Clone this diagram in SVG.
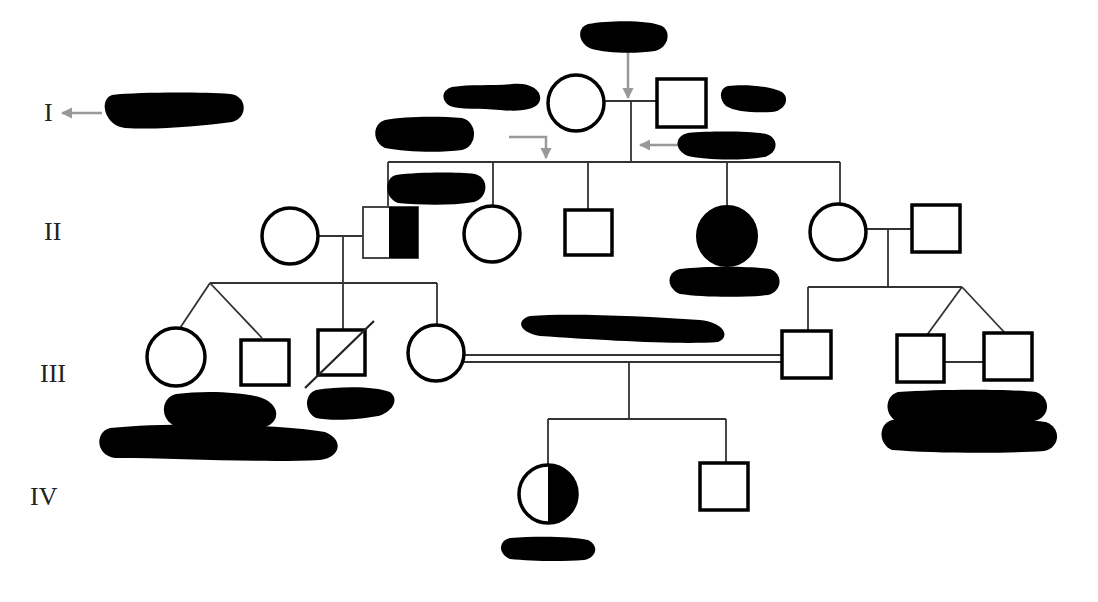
<svg xmlns="http://www.w3.org/2000/svg" width="1098" height="602" viewBox="0 0 1098 602">
<style>
.sym{fill:#fff;stroke:#000;stroke-width:3.5}
.fill{fill:#000}
.ln{stroke:#333;stroke-width:1.8;fill:none}
.gr{stroke:#999;stroke-width:2.5;fill:none}
.gen{font-family:"Liberation Serif",serif;font-size:26px;fill:#222}
.blob{fill:#000}
</style>
<defs>
<marker id="ah" viewBox="0 0 10 10" refX="9" refY="5" markerWidth="4.5" markerHeight="4.5" orient="auto"><path d="M0,0 L10,5 L0,10 z" fill="#999"/></marker>
</defs>
<rect width="1098" height="602" fill="#fff"/>
<g id="labels">
<text class="gen" x="44" y="121">I</text>
<text class="gen" x="44" y="240">II</text>
<text class="gen" x="40" y="382">III</text>
<text class="gen" x="30" y="505">IV</text>
</g>
<g id="connectors">
<line class="ln" x1="604" y1="101" x2="656" y2="101"/>
<line class="ln" x1="631" y1="101" x2="631" y2="162"/>
<line class="ln" x1="388" y1="162" x2="840" y2="162"/>
<line class="ln" x1="388" y1="162" x2="388" y2="206"/>
<line class="ln" x1="493" y1="162" x2="493" y2="206"/>
<line class="ln" x1="588" y1="162" x2="588" y2="210"/>
<line class="ln" x1="727" y1="162" x2="727" y2="206"/>
<line class="ln" x1="840" y1="162" x2="840" y2="204"/>
<line class="ln" x1="318" y1="236" x2="362" y2="236"/>
<line class="ln" x1="343" y1="236" x2="343" y2="329"/>
<line class="ln" x1="210" y1="283" x2="437" y2="283"/>
<line class="ln" x1="210" y1="283" x2="180" y2="328"/>
<line class="ln" x1="210" y1="283" x2="262" y2="338"/>
<line class="ln" x1="437" y1="283" x2="437" y2="324"/>
<line class="ln" x1="866" y1="229" x2="912" y2="229"/>
<line class="ln" x1="888" y1="229" x2="888" y2="287"/>
<line class="ln" x1="808" y1="287" x2="962" y2="287"/>
<line class="ln" x1="808" y1="287" x2="808" y2="330"/>
<line class="ln" x1="962" y1="287" x2="927" y2="335"/>
<line class="ln" x1="962" y1="287" x2="1005" y2="333"/>
<line class="ln" x1="944" y1="362" x2="984" y2="362"/>
<line class="ln" x1="464" y1="355" x2="782" y2="355"/>
<line class="ln" x1="464" y1="362" x2="782" y2="362"/>
<line class="ln" x1="629" y1="362" x2="629" y2="419"/>
<line class="ln" x1="548" y1="419" x2="726" y2="419"/>
<line class="ln" x1="548" y1="419" x2="548" y2="464"/>
<line class="ln" x1="726" y1="419" x2="726" y2="463"/>
<line class="gr" x1="628" y1="48" x2="628" y2="98" marker-end="url(#ah)"/>
<polyline class="gr" points="509,137 546,137 546,158" marker-end="url(#ah)"/>
<line class="gr" x1="682" y1="145" x2="640" y2="145" marker-end="url(#ah)"/>
<line class="gr" x1="102" y1="113" x2="62" y2="113" marker-end="url(#ah)"/>
</g>
<g id="I-1"><circle class="sym" cx="576" cy="103" r="28"/></g>
<g id="I-2"><rect class="sym" x="657" y="79" width="49" height="48"/></g>
<g id="II-1"><circle class="sym" cx="290" cy="236" r="28"/></g>
<g id="II-2"><rect x="363" y="207" width="55" height="51" fill="#fff" stroke="#333" stroke-width="1.8"/><rect class="fill" x="389" y="207" width="29" height="51"/></g>
<g id="II-3"><circle class="sym" cx="492" cy="234" r="28"/></g>
<g id="II-4"><rect class="sym" x="565" y="210" width="47" height="45"/></g>
<g id="II-5"><circle cx="727" cy="236" r="30" fill="#000" stroke="#000" stroke-width="2"/></g>
<g id="II-6"><circle class="sym" cx="838" cy="232" r="28"/></g>
<g id="II-7"><rect class="sym" x="912" y="205" width="48" height="47"/></g>
<g id="III-1"><circle class="sym" cx="176" cy="357" r="29"/></g>
<g id="III-2"><rect class="sym" x="241" y="340" width="48" height="45"/></g>
<g id="III-3"><rect class="sym" x="318" y="330" width="47" height="45"/><line x1="305" y1="388" x2="374" y2="321" stroke="#222" stroke-width="2.2"/></g>
<g id="III-4"><circle class="sym" cx="436" cy="353" r="28"/></g>
<g id="III-5"><rect class="sym" x="782" y="331" width="49" height="47"/></g>
<g id="III-6"><rect class="sym" x="897" y="335" width="47" height="47"/></g>
<g id="III-7"><rect class="sym" x="984" y="333" width="48" height="47"/></g>
<g id="IV-1"><circle class="sym" cx="548" cy="494" r="29"/><path class="fill" d="M548,465 A29,29 0 0 1 548,523 Z"/></g>
<g id="IV-2"><rect class="sym" x="700" y="463" width="48" height="47"/></g>
<g id="redactions">
<path class="blob" d="M588,24 C610,20 650,20 662,26 C672,32 668,48 655,51 C635,54 605,53 592,49 C578,44 576,28 588,24 Z"/>
<path class="blob" d="M452,87 C470,84 495,86 512,84 C530,82 542,90 540,100 C538,110 520,112 500,110 C480,108 460,110 450,106 C440,100 442,90 452,87 Z"/>
<path class="blob" d="M728,86 C745,84 770,86 782,92 C790,98 786,110 772,112 C755,113 735,112 726,106 C718,98 720,88 728,86 Z"/>
<path class="blob" d="M112,95 C140,92 200,92 230,94 C248,96 248,118 232,122 C200,126 160,130 125,128 C105,126 98,100 112,95 Z"/>
<path class="blob" d="M385,120 C405,116 440,116 462,118 C478,122 478,146 462,150 C440,153 405,152 385,148 C372,142 372,124 385,120 Z"/>
<path class="blob" d="M688,133 C710,131 750,131 766,134 C780,138 778,154 764,157 C740,161 705,160 688,156 C674,150 674,136 688,133 Z"/>
<path class="blob" d="M396,175 C420,172 455,172 475,174 C490,178 488,198 474,202 C450,206 420,205 398,203 C384,198 384,178 396,175 Z"/>
<path class="blob" d="M680,269 C705,266 750,266 770,269 C784,274 782,292 768,295 C740,298 700,297 680,294 C666,288 666,272 680,269 Z"/>
<path class="blob" d="M530,316 C570,313 640,316 700,320 C722,322 732,336 718,342 C680,345 600,340 540,336 C518,332 516,320 530,316 Z"/>
<path class="blob" d="M176,394 C205,390 245,392 262,398 C282,406 280,424 262,428 C230,432 195,430 175,426 C160,420 160,398 176,394 Z"/>
<path class="blob" d="M110,428 C170,422 280,424 325,432 C345,440 340,458 320,460 C260,463 180,458 115,458 C95,455 95,432 110,428 Z"/>
<path class="blob" d="M316,390 C340,386 375,386 390,392 C400,400 392,412 378,416 C358,420 330,421 316,418 C304,412 304,394 316,390 Z"/>
<path class="blob" d="M898,392 C940,389 1010,389 1036,392 C1052,398 1050,418 1034,421 C990,424 930,423 898,422 C884,416 884,396 898,392 Z"/>
<path class="blob" d="M892,420 C940,418 1020,418 1046,422 C1062,428 1060,448 1044,451 C1000,454 930,453 892,450 C878,444 878,424 892,420 Z"/>
<path class="blob" d="M510,538 C535,536 570,536 588,540 C600,546 596,558 584,560 C560,562 530,561 510,559 C498,554 498,541 510,538 Z"/>
</g>
</svg>
